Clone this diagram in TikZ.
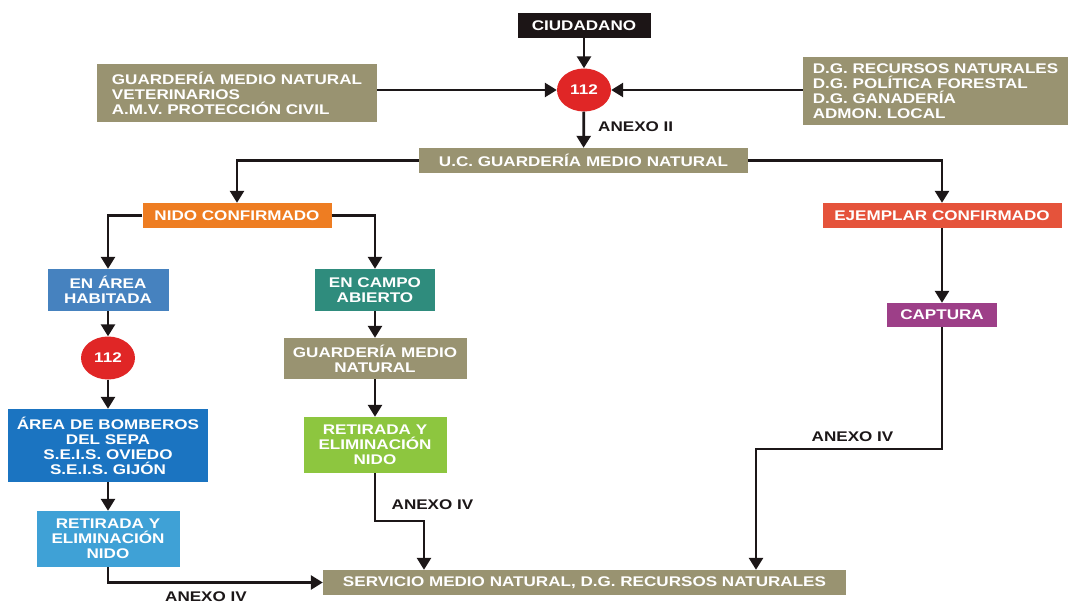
\documentclass[tikz,border=0pt]{standalone}
\usepackage{fontspec}
\setmainfont[FakeStretch=1.22]{Liberation Sans}
\usetikzlibrary{arrows.meta,shapes.geometric}
\definecolor{cOlive}{HTML}{999371}
\definecolor{cBlack}{HTML}{1C1516}
\definecolor{cRed}{HTML}{E02626}
\definecolor{cOrange}{HTML}{EE7D22}
\definecolor{cRedOr}{HTML}{E5533B}
\definecolor{cBlueA}{HTML}{4682BF}
\definecolor{cTeal}{HTML}{2F8C7D}
\definecolor{cBlueB}{HTML}{1B74C1}
\definecolor{cGreen}{HTML}{8DC63F}
\definecolor{cBlueC}{HTML}{3FA1D6}
\definecolor{cPurple}{HTML}{9D3F88}
\definecolor{cLine}{HTML}{1C1718}
\tikzset{
  txt/.style={font=\bfseries\fontsize{14}{15}\selectfont},
  box/.style={txt, fill=#1, text=white, inner sep=0pt, align=center},
  ell/.style={txt, ellipse, fill=cRed, text=white, inner sep=0pt,
    minimum width=54pt, minimum height=43pt},
  conn/.style={draw=cLine, line width=2.7pt, -{Triangle[width=14pt,length=12pt]}},
  lbl/.style={txt, text=cLine, inner sep=0pt},
}
\begin{document}
\begin{tikzpicture}[x=1pt,y=-1pt]
\useasboundingbox (0,0) rectangle (1071,602);
\clip (0,0) rectangle (1071,602);
% top
\node[box=cBlack, minimum width=133pt, minimum height=25pt] (ciud) at (584,25.5) {CIUDADANO};
\node[ell] (e1) at (584,90) {112};
\node[box=cOlive, align=left, minimum width=280pt, minimum height=58pt] (lbox) at (237,93)
  {GUARDERÍA MEDIO NATURAL\\VETERINARIOS\\A.M.V. PROTECCIÓN CIVIL};
\node[box=cOlive, align=left, minimum width=265pt, minimum height=68pt] (rbox) at (935.5,91)
  {D.G. RECURSOS NATURALES\\D.G. POLÍTICA FORESTAL\\D.G. GANADERÍA\\ADMON. LOCAL};
\node[lbl, anchor=west] (anx2) at (598,127) {ANEXO II};
\node[box=cOlive, minimum width=329pt, minimum height=25pt] (uc) at (583.5,160.5) {U.C. GUARDERÍA MEDIO NATURAL};
% second level
\node[box=cOrange, minimum width=189pt, minimum height=25pt] (nido) at (237,215.5) {NIDO CONFIRMADO};
\node[box=cRedOr, minimum width=239pt, minimum height=25pt] (ejem) at (942,215.5) {EJEMPLAR CONFIRMADO};
% left branch
\node[box=cBlueA, minimum width=121pt, minimum height=42pt] (area) at (108,290) {EN ÁREA\\HABITADA};
\node[ell] (e2) at (108,358) {112};
\node[box=cBlueB, minimum width=200pt, minimum height=73pt] (bomb) at (108,445.5)
  {ÁREA DE BOMBEROS\\DEL SEPA\\S.E.I.S. OVIEDO\\S.E.I.S. GIJÓN};
\node[box=cBlueC, minimum width=143pt, minimum height=56pt] (ret1) at (108,539)
  {RETIRADA Y\\ELIMINACIÓN\\NIDO};
% middle branch
\node[box=cTeal, minimum width=120pt, minimum height=42pt] (campo) at (375,290) {EN CAMPO\\ABIERTO};
\node[box=cOlive, minimum width=183pt, minimum height=41pt] (guard2) at (375,358.5) {GUARDERÍA MEDIO\\NATURAL};
\node[box=cGreen, minimum width=143pt, minimum height=56pt] (ret2) at (375,445)
  {RETIRADA Y\\ELIMINACIÓN\\NIDO};
% right branch
\node[box=cPurple, minimum width=110pt, minimum height=24pt] (capt) at (942,315) {CAPTURA};
% bottom
\node[box=cOlive, minimum width=523pt, minimum height=25pt] (serv) at (584.5,582.5)
  {SERVICIO MEDIO NATURAL, D.G. RECURSOS NATURALES};
% labels
\node[lbl] (anx4r) at (852.5,437) {ANEXO IV};
\node[lbl] (anx4m) at (432.5,505) {ANEXO IV};
\node[lbl, anchor=base] (anx4l) at (206,601) {ANEXO IV};
% bend points
\coordinate (k1) at (424,521);
\coordinate (k2) at (756,449);
% connectors
\draw[conn] (ciud) -- (e1);
\draw[conn] (e1.west -| lbox.east) -- (e1.west);
\draw[conn] (e1.east -| rbox.west) -- (e1.east);
\draw[conn] (e1) -- (uc);
\draw[conn] (uc.west) -| (nido.north);
\draw[conn] (uc.east) -| (ejem.north);
\draw[conn] (nido.west) -| (area.north);
\draw[conn] (nido.east) -| (campo.north);
\draw[conn] (area) -- (e2);
\draw[conn] (e2) -- (bomb);
\draw[conn] (bomb) -- (ret1);
\draw[conn] (ret1.south) |- (serv.west);
\draw[conn] (campo) -- (guard2);
\draw[conn] (guard2) -- (ret2);
\draw[conn] (ret2.south) |- (k1) -- (k1 |- serv.north);
\draw[conn] (ejem) -- (capt);
\draw[conn] (capt.south) |- (k2) -- (k2 |- serv.north);
\end{tikzpicture}
\end{document}
